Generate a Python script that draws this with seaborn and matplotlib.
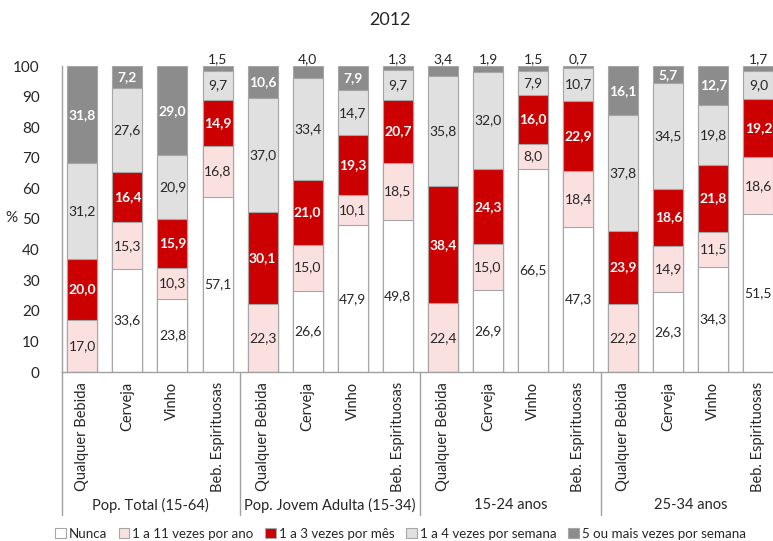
import matplotlib
matplotlib.use("Agg")
from matplotlib import pyplot as plt
from matplotlib.patches import Patch
import pandas as pd
import seaborn as sns

# categories
groups = ["Pop. Total (15-64)", "Pop. Jovem Adulta (15-34)", "15-24 anos", "25-34 anos"]
drinks = ["Qualquer Bebida", "Cerveja", "Vinho", "Beb. Espirituosas"]
layers = ["Nunca", "1 a 11 vezes por ano", "1 a 3 vezes por mês",
          "1 a 4 vezes por semana", "5 ou mais vezes por semana"]

# values per layer, 16 bars (group x drink)
nunca = [0, 33.6, 23.8, 57.1,
         0, 26.6, 47.9, 49.8,
         0, 26.9, 66.5, 47.3,
         0, 26.3, 34.3, 51.5]
ano = [17.0, 15.3, 10.3, 16.8,
       22.3, 15.0, 10.1, 18.5,
       22.4, 15.0, 8.0, 18.4,
       22.2, 14.9, 11.5, 18.6]
mes = [20.0, 16.4, 15.9, 14.9,
       30.1, 21.0, 19.3, 20.7,
       38.4, 24.3, 16.0, 22.9,
       23.9, 18.6, 21.8, 19.2]
semana = [31.2, 27.6, 20.9, 9.7,
          37.0, 33.4, 14.7, 9.7,
          35.8, 32.0, 7.9, 10.7,
          37.8, 34.5, 19.8, 9.0]
mais = [31.8, 7.2, 29.0, 1.5,
        10.6, 4.0, 7.9, 1.3,
        3.4, 1.9, 1.5, 0.7,
        16.1, 5.7, 12.7, 1.7]

colors = ["#ffffff", "#fbe0e0", "#cc0000", "#e0e0e0", "#8c8c8c"]
label_colors = ["#262626", "#262626", "white", "#262626", "white"]
label_bold = [False, False, True, False, True]

bars = [f"{g}|{d}" for g in groups for d in drinks]
series = [nunca, ano, mes, semana, mais]

rows = []
for li, vals in enumerate(series):
    cum_prev = [sum(s[i] for s in series[:li]) for i in range(len(bars))]
    for i, b in enumerate(bars):
        rows.append({"bar": b, "layer": layers[li], "value": vals[i],
                     "bottom": cum_prev[i], "cum": cum_prev[i] + vals[i]})
df = pd.DataFrame(rows)

sns.set_theme(style="white")
plt.rcParams["font.family"] = ["Lato", "DejaVu Sans"]

fig = plt.figure(figsize=(7.73, 5.41), dpi=100)
ax = fig.add_axes([62 / 773, 1 - 372 / 541, (781 - 62) / 773, 306 / 541])

# draw stacked bars from the top layer down
for li in reversed(range(len(layers))):
    sub = df[df["layer"] == layers[li]]
    sns.barplot(data=sub, x="bar", y="cum", order=bars, color=colors[li],
                saturation=1, width=0.665, edgecolor="#a6a6a6", linewidth=0.8,
                ax=ax)

# value labels
for _, r in df.iterrows():
    if r["value"] <= 0:
        continue
    i = bars.index(r["bar"])
    li = layers.index(r["layer"])
    txt = f"{r['value']:.1f}".replace(".", ",")
    if r["value"] < 5:
        ax.text(i, 100.4, txt, ha="center", va="bottom", fontsize=10,
                color="#262626", clip_on=False)
    else:
        ax.text(i, r["bottom"] + r["value"] / 2, txt, ha="center", va="center",
                fontsize=10, color=label_colors[li],
                fontweight="bold" if label_bold[li] else "normal")

ax.set_xlim(-0.45, 15.5)
ax.set_ylim(0, 100)
ax.set_yticks(range(0, 101, 10))
ax.tick_params(axis="y", labelsize=11, colors="#262626", length=0, pad=16)
ax.set_xticks([])
ax.set_xlabel("")
ax.set_ylabel("")
for s in ["top", "right"]:
    ax.spines[s].set_visible(False)
for s in ["left", "bottom"]:
    ax.spines[s].set_color("#a0a0a0")
    ax.spines[s].set_linewidth(1)

# category labels and group labels
for i, b in enumerate(bars):
    ax.text(i, -3.2, b.split("|")[1], rotation=90, ha="center", va="top",
            fontsize=10.5, color="#262626", clip_on=False)
for gi, g in enumerate(groups):
    ax.text(gi * 4 + 1.5, -43.5, g, ha="center", va="center", fontsize=10.5,
            color="#262626", clip_on=False)
for xs in [-0.45, 3.5, 7.5, 11.5]:
    ax.plot([xs, xs], [0, -46.7], color="#a0a0a0", lw=1, clip_on=False)

fig.text(5 / 773, 1 - 218 / 541, "%", fontsize=11, color="#262626",
         va="center", ha="left")
fig.text(390 / 773, 1 - 20 / 541, "2012", fontsize=13, color="#262626",
         ha="center", va="center")

handles = [Patch(facecolor=c, edgecolor="#a6a6a6", linewidth=0.8) for c in colors]
fig.legend(handles, layers, loc="center left",
           bbox_to_anchor=(55 / 773, 1 - 534 / 541), ncol=5, frameon=False,
           fontsize=9.6, handlelength=0.8, handleheight=0.8, handletextpad=0.2,
           columnspacing=0.9, borderpad=0, borderaxespad=0)

fig.savefig("out.png", dpi=100)
